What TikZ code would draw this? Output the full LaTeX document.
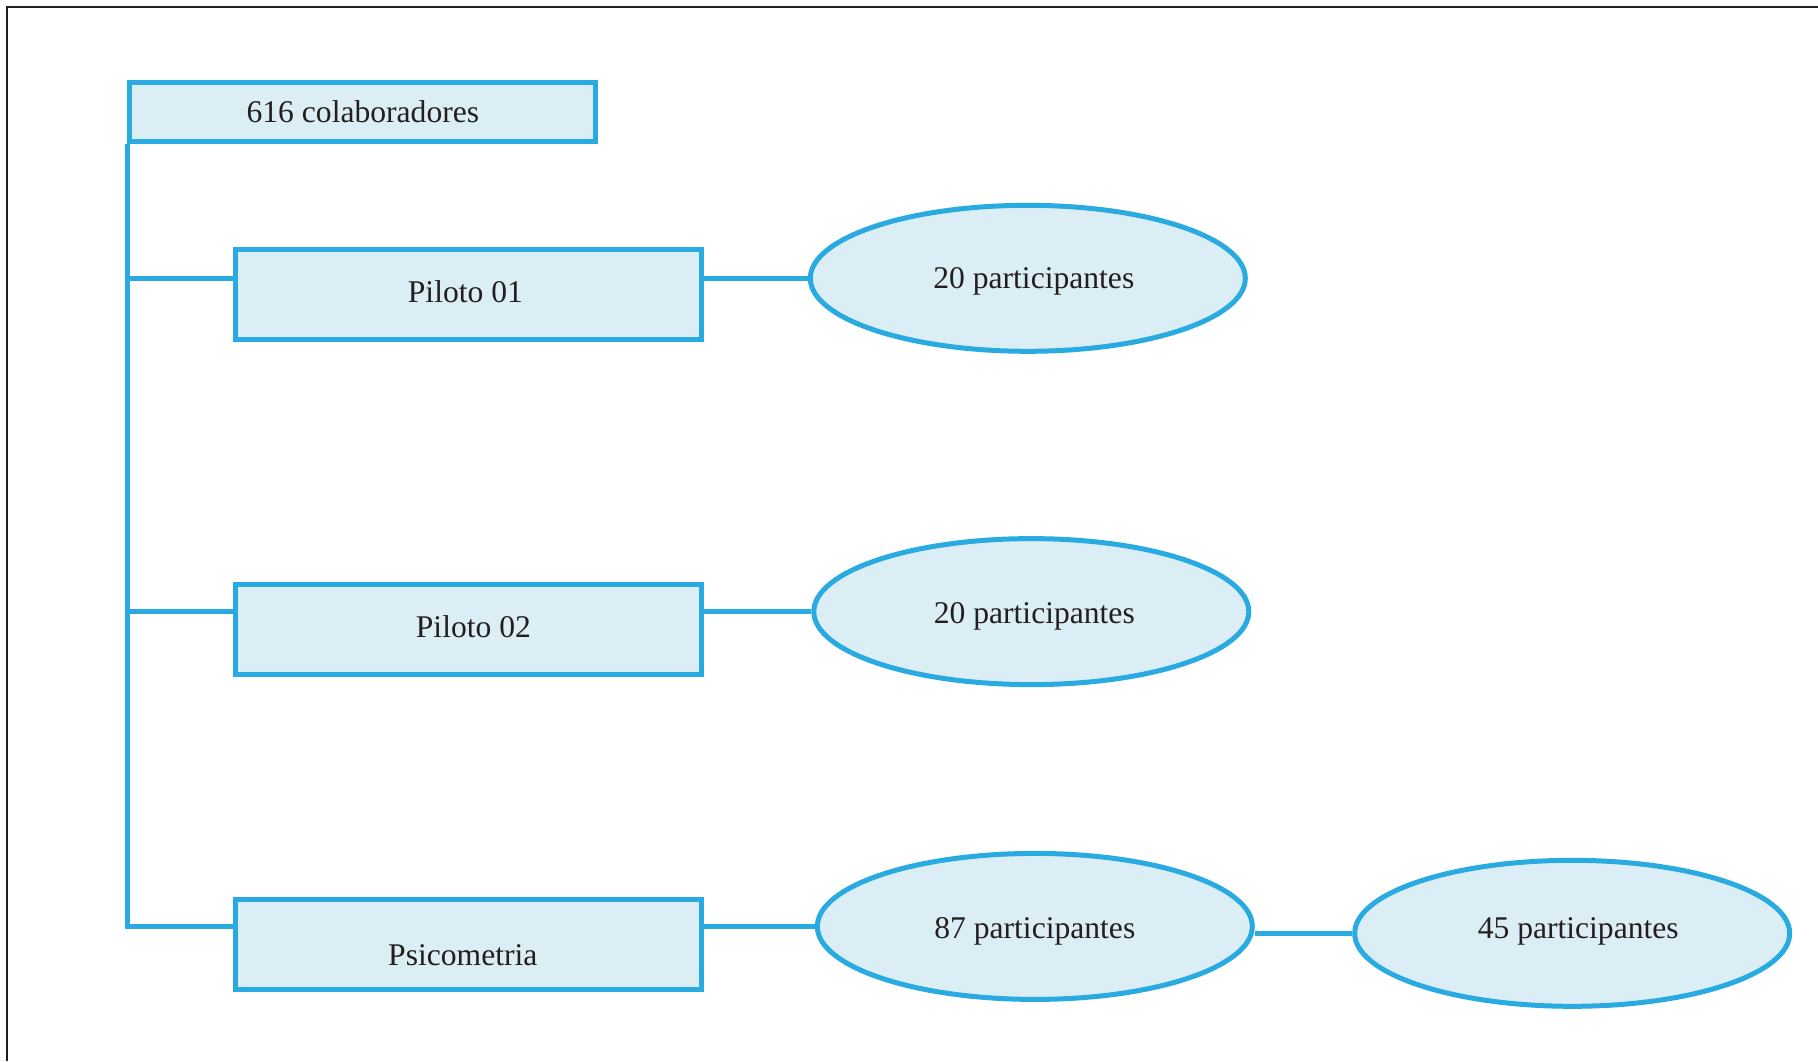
\documentclass[tikz,border=0pt]{standalone}
\usepackage{fontspec}
\setmainfont{Liberation Serif}
\usetikzlibrary{shapes.geometric}
\definecolor{linkblue}{HTML}{29ABE2}
\definecolor{paleblue}{HTML}{DCEEF5}
\definecolor{inkdark}{HTML}{231F20}
\tikzset{
  stagebox/.style={draw=linkblue, fill=paleblue, line width=2.5pt, rectangle,
    minimum width=233pt, inner sep=0pt},
  groupell/.style={draw=linkblue, fill=paleblue, line width=2.5pt, ellipse,
    minimum width=217.5pt, minimum height=73pt, inner sep=0pt},
  conn/.style={draw=linkblue, line width=2.5pt},
  plain/.style={text=inkdark, font=\fontsize{15.8}{18}\selectfont, inner sep=0pt}
}
\begin{document}
\begin{tikzpicture}[x=0.5pt,y=-0.5pt]
  \useasboundingbox (0,0) rectangle (1818,1061);
  % outer frame (top and left edges)
  \coordinate (fbl) at (7,1061);
  \coordinate (ftl) at (7,7);
  \coordinate (ftr) at (1818,7);
  \draw[inkdark, line width=1.1pt] (fbl) -- (ftl) -- (ftr);

  % boxes
  \node[stagebox, minimum height=29.4pt] (top) at (362.9,111.9) {};
  \node[stagebox, minimum height=45pt] (p1) at (468.4,294.5) {};
  \node[stagebox, minimum height=45pt] (p2) at (468.4,629.5) {};
  \node[stagebox, minimum height=45pt] (p3) at (468.4,944.4) {};

  % ellipses
  \node[groupell] (e1) at (1027.8,278.3) {};
  \node[groupell] (e2) at (1031.3,611.6) {};
  \node[groupell] (e3) at (1034.8,926.4) {};
  \node[groupell] (e4) at (1572.2,933.3) {};

  % labels
  \node[plain] (topt) at (top) {616 colaboradores};
  \node[plain, xshift=-1.5pt, yshift=1.2pt] (p1t) at (p1) {Piloto 01};
  \node[plain, xshift=2.5pt, yshift=1.2pt] (p2t) at (p2) {Piloto 02};
  \node[plain, xshift=-2.8pt, yshift=-5.5pt] (p3t) at (p3) {Psicometria};
  \node[plain, xshift=3pt, yshift=-1.75pt] (e1t) at (e1) {20 participantes};
  \node[plain, xshift=1.5pt, yshift=-2.3pt] (e2t) at (e2) {20 participantes};
  \node[plain, xshift=0pt, yshift=-2.3pt] (e3t) at (e3) {87 participantes};
  \node[plain, xshift=3pt, yshift=1.2pt] (e4t) at (e4) {45 participantes};

  % trunk and branches
  \draw[conn] (top.south west) |- (p3.west |- e3.center);
  \draw[conn] (top.south west |- e1.center) -- (p1.west |- e1.center);
  \draw[conn] (top.south west |- e2.center) -- (p2.west |- e2.center);

  % links to the participant groups
  \draw[conn] (p1.east |- e1.center) -- (e1.west);
  \draw[conn] (p2.east |- e2.center) -- (e2.west);
  \draw[conn] (p3.east |- e3.center) -- (e3.west);
  \draw[conn] (e3.east |- e4.west) -- (e4.west);
\end{tikzpicture}
\end{document}
